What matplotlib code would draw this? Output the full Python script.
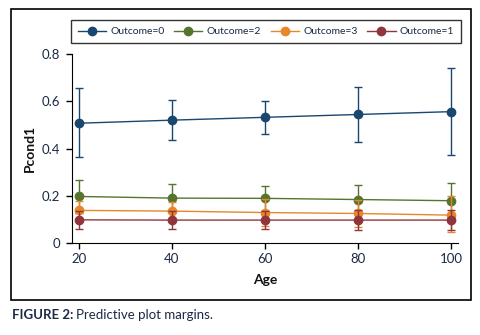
import numpy as np
import matplotlib
matplotlib.use("Agg")
import matplotlib.pyplot as plt
from matplotlib.patches import Rectangle

plt.rcParams['font.family'] = ['Lato', 'DejaVu Sans']

# data (margins with 95% CI)
age = [20, 40, 60, 80, 100]
labels = ["Outcome=0", "Outcome=2", "Outcome=3", "Outcome=1"]
colors = ["#1a476f", "#55752f", "#e8862a", "#90353b"]

p_out0 = [0.507, 0.520, 0.532, 0.544, 0.556]
lo_out0 = [0.362, 0.437, 0.461, 0.429, 0.372]
hi_out0 = [0.655, 0.606, 0.600, 0.659, 0.740]

p_out2 = [0.197, 0.190, 0.189, 0.184, 0.179]
lo_out2 = [0.128, 0.131, 0.137, 0.123, 0.102]
hi_out2 = [0.266, 0.249, 0.241, 0.245, 0.256]

p_out3 = [0.138, 0.135, 0.129, 0.125, 0.118]
lo_out3 = [0.100, 0.098, 0.072, 0.068, 0.045]
hi_out3 = [0.176, 0.172, 0.186, 0.182, 0.199]

p_out1 = [0.098, 0.097, 0.097, 0.097, 0.097]
lo_out1 = [0.059, 0.058, 0.058, 0.056, 0.055]
hi_out1 = [0.137, 0.136, 0.136, 0.138, 0.140]

yticks = [0, 0.2, 0.4, 0.6, 0.8]
yticklabels = ["0", "0.2", "0.4", "0.6", "0.8"]

series = [(p_out0, lo_out0, hi_out0), (p_out2, lo_out2, hi_out2),
          (p_out3, lo_out3, hi_out3), (p_out1, lo_out1, hi_out1)]

fig = plt.figure(figsize=(4.81, 3.35), dpi=100)
ax = fig.add_axes([0.1497, 0.2746, 0.8023, 0.5642])

text_col = "#1b2a44"
handles = []
for (p, lo, hi), lab, c in zip(series, labels, colors):
    p = np.array(p)
    yerr = np.vstack([p - np.array(lo), np.array(hi) - p])
    ax.errorbar(age, p, yerr=yerr, fmt="none", ecolor=c, elinewidth=1.0,
                capsize=3, capthick=1.0)
    h, = ax.plot(age, p, color=c, lw=1.0, marker="o", markersize=6,
                 markeredgecolor=c, label=lab)
    handles.append(h)

ax.set_xlim(18.5, 101.5)
ax.set_ylim(0, 0.8)
ax.set_xticks(age)
ax.set_yticks(yticks)
ax.set_yticklabels(yticklabels)
ax.spines["top"].set_visible(False)
ax.spines["right"].set_visible(False)
ax.tick_params(length=4.5, width=1, color="black", labelsize=9.5,
               labelcolor=text_col, pad=3)
ax.tick_params(axis="y", pad=4)
ax.set_xlabel("Age", fontsize=10, fontweight="bold", color="#111111", labelpad=6)
ax.set_ylabel("Pcond1", fontsize=10, fontweight="bold", color="#111111", labelpad=4)

leg = fig.legend(handles=handles, labels=labels, ncol=4, loc="upper right",
                 bbox_to_anchor=(0.970, 0.957), fontsize=7.5, frameon=True,
                 fancybox=False, edgecolor="black", handlelength=2.7,
                 handletextpad=0.4, columnspacing=0.95, borderpad=0.7)
leg.get_frame().set_linewidth(1.0)
for t in leg.get_texts():
    t.set_color(text_col)

# outer frame around the graph region
fig.add_artist(Rectangle((0.0229, 0.1045), 0.956, 0.869, transform=fig.transFigure,
                         fill=False, edgecolor="black", lw=1.2))

# caption
cap1 = fig.text(0.025, 0.06, "FIGURE 2:", fontsize=9.5, fontweight="bold",
                color="#1b2a44", va="center")
fig.canvas.draw()
bb = cap1.get_window_extent().transformed(fig.transFigure.inverted())
fig.text(bb.x1 + 0.006, 0.06, "Predictive plot margins.", fontsize=9.5,
         color="#1b2a44", va="center")

fig.savefig("out.png", dpi=100)
